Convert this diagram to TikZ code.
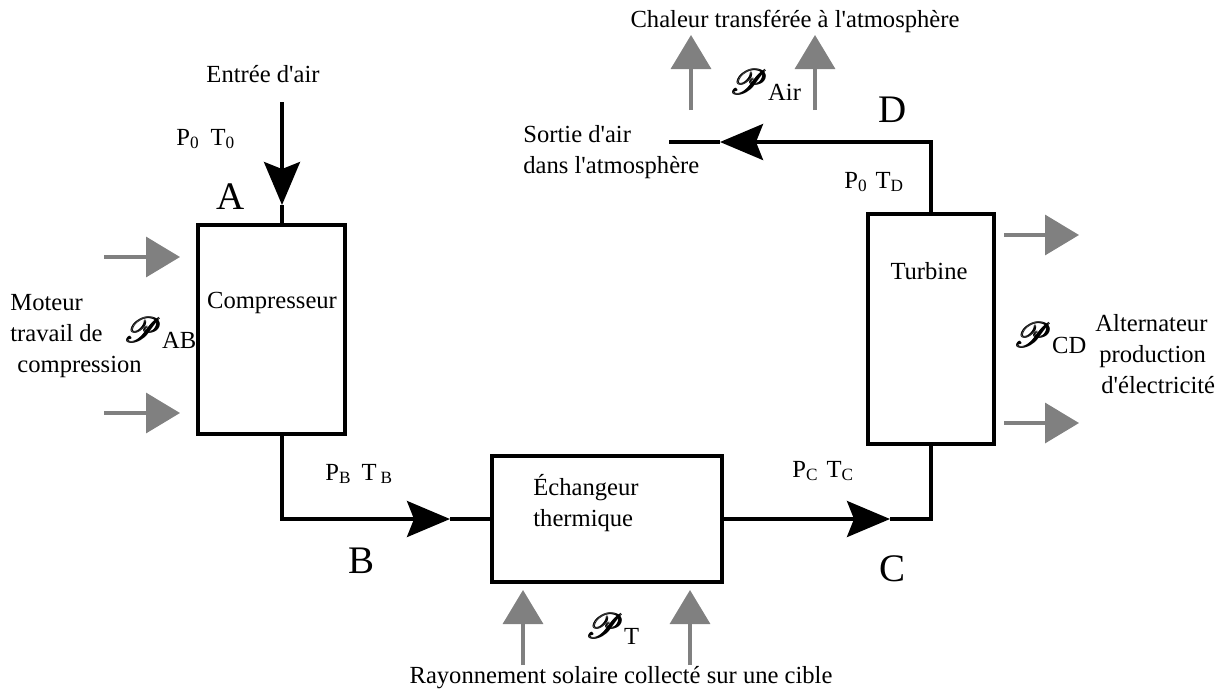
\documentclass[tikz,border=0pt]{standalone}
\usepackage{fontspec}
\setmainfont{Liberation Serif}[Ligatures = TeXOff]
\usepackage{amsmath}
\usepackage{mathrsfs}
\usetikzlibrary{arrows.meta}

\newcommand{\puiss}[1]{{\fontsize{18.5}{19}\selectfont$\pmb{\mathscr{P}}$}\raisebox{-3pt}{#1}}

\begin{document}
\begin{tikzpicture}[
            x = 0.5pt, y = -0.5pt,
            every node/.style = {inner sep = 0pt, font = \fontsize{12.3}{15.5}\selectfont},
            box/.style = {draw, line width = 2pt},
            flow/.style = {line width = 1.8pt},
            flowarrow/.style = {line width = 1.8pt, -{Stealth[length = 21.5pt, width = 18pt, inset = 3.5pt]}},
            power/.style = {draw = gray, line width = 1.7pt, -{Triangle[length = 17pt, width = 20pt, fill = gray]}},
            point/.style = {anchor = base, font = \fontsize{19.5}{20}\selectfont},
            txt/.style = {anchor = base west, align = left}
        ]
        \useasboundingbox (0,0) rectangle (1229,692);
        % the three units
        \node[box, minimum width = 73.5pt, minimum height = 104.5pt] (comp) at (271.5,329.5) {};
        \node[box, minimum width = 115pt, minimum height = 63pt] (exch) at (607,519) {};
        \node[box, minimum width = 63pt, minimum height = 115pt] (turb) at (931,329) {};
        \node[anchor = base] (compT) at (272,308) {Compresseur};
        \node[txt] (exchT) at (533,526) {\'Echangeur\\thermique};
        \node[anchor = base] (turbT) at (929,279) {Turbine};
        % air circuit
        \coordinate (inlet) at (282,102);
        \coordinate (tipA) at (282,205);
        \coordinate (tipB) at (450,519);
        \coordinate (tipC) at (890,519);
        \coordinate (tipD) at (720,142);
        \coordinate (outlet) at (669,142);
        \draw[flowarrow] (inlet) -- (tipA);
        \draw[flow] (tipA) -- (inlet |- comp.north);
        \draw[flowarrow] (inlet |- comp.south) -- (inlet |- exch.west) -- (tipB);
        \draw[flow] (tipB) -- (exch.west);
        \draw[flowarrow] (exch.east) -- (tipC);
        \draw[flow] (tipC) -- (turb.south |- exch.east) -- (turb.south);
        \draw[flowarrow] (turb.north) -- (turb.north |- outlet) -- (tipD);
        \draw[flow] (tipD) -- (outlet);
        % points of the cycle
        \node[point] (A) at (231,209) {A};
        \node[point] (B) at (361,573) {B};
        \node[point] (C) at (892,581) {C};
        \node[point] (D) at (893,122) {D};
        \node[txt] (stA) at (176,145) {P\textsubscript{0}\hspace{5.5pt}T\textsubscript{0}};
        \node[txt] (stB) at (325,480) {P\textsubscript{B}\hspace{5pt}T\,\textsubscript{B}};
        \node[txt] (stC) at (792,477) {P\textsubscript{C}\hspace{4pt}T\textsubscript{C}};
        \node[txt] (stD) at (844,188) {P\textsubscript{0}\hspace{4pt}T\textsubscript{D}};
        \node[anchor = base] (entree) at (263,82) {Entr\'ee d'air};
        \node[txt] (sortie) at (523,173) {Sortie d'air\\dans l'atmosph\`ere};
        % power exchanges
        \coordinate (m1) at (104,257); \coordinate (m1t) at (180,257);
        \coordinate (m2) at (104,413); \coordinate (m2t) at (180,413);
        \coordinate (g1) at (1004,235); \coordinate (g1t) at (1079,235);
        \coordinate (g2) at (1004,423); \coordinate (g2t) at (1079,423);
        \coordinate (h1) at (691,110); \coordinate (h1t) at (691,35);
        \coordinate (h2) at (815,110); \coordinate (h2t) at (815,35);
        \coordinate (s1) at (523,665); \coordinate (s1t) at (523,590);
        \coordinate (s2) at (690,665); \coordinate (s2t) at (690,590);
        \draw[power] (m1) -- (m1t);
        \draw[power] (m2) -- (m2t);
        \draw[power] (g1) -- (g1t);
        \draw[power] (g2) -- (g2t);
        \draw[power] (h1) -- (h1t);
        \draw[power] (h2) -- (h2t);
        \draw[power] (s1) -- (s1t);
        \draw[power] (s2) -- (s2t);
        \node[txt] (PAB) at (124,342) {\puiss{AB}};
        \node[txt] (PCD) at (1014,347) {\puiss{CD}};
        \node[txt] (PAir) at (730,94) {\puiss{Air}};
        \node[txt] (PT) at (586,638) {\puiss{T}};
        \node[txt] (moteur) at (10,372) {Moteur\\travail de\\\hspace*{3.5pt}compression};
        \node[txt] (alter) at (1095,393) {Alternateur\\\hspace*{2pt}production\\\hspace*{3pt}d'\'electricit\'e};
        \node[anchor = base] (chaleur) at (795,27) {Chaleur transf\'er\'ee \`a l'atmosph\`ere};
        \node[anchor = base] (rayon) at (621,683) {Rayonnement solaire collect\'e sur une cible};
    \end{tikzpicture}
\end{document}
